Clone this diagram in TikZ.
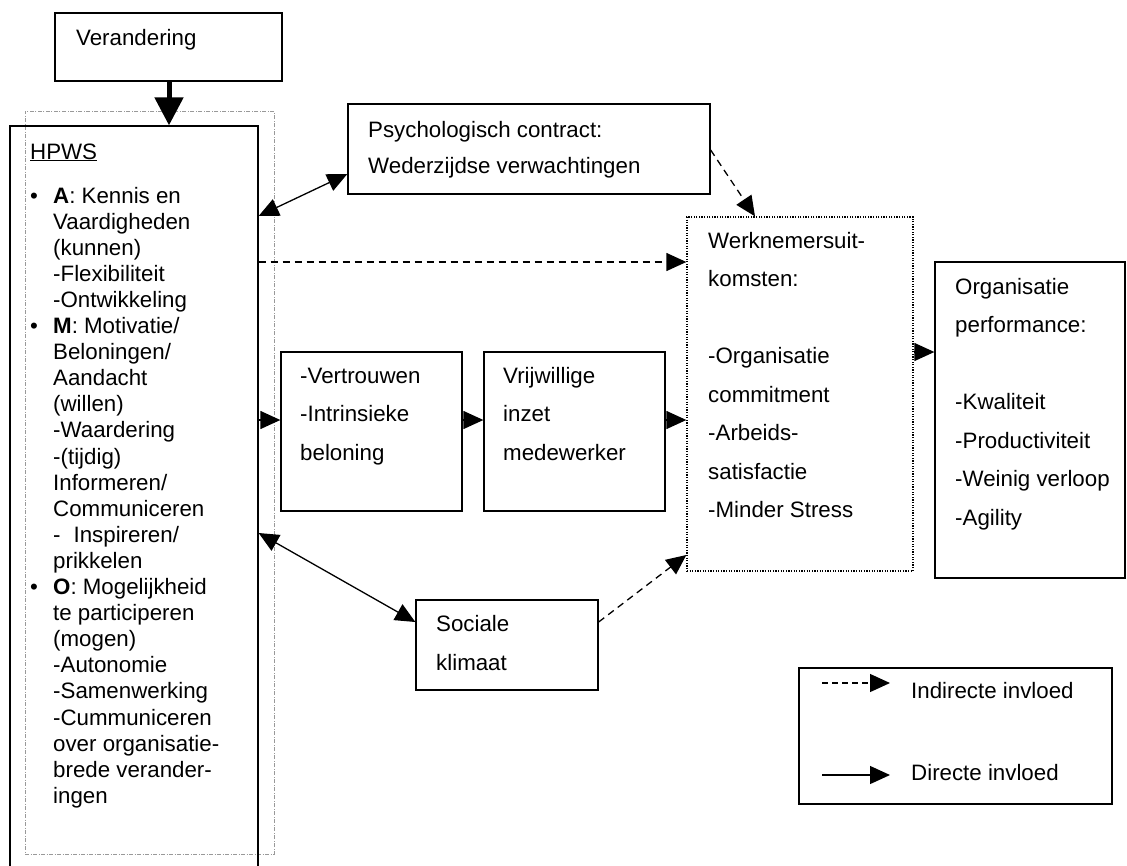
\documentclass[tikz,border=0pt]{standalone}
\usepackage{fontspec}
\setmainfont{Liberation Sans}
\usetikzlibrary{arrows.meta,calc}
\begin{document}
\begin{tikzpicture}[x=1pt,y=-1pt,
  box/.style={draw, line width=1.3pt, rectangle, inner sep=0pt},
  txt/.style={anchor=base west, inner sep=0pt, font=\fontsize{22.3}{38.5}\selectfont},
  arr/.style={line width=1.3pt, -{Triangle[length=20pt,width=18pt]}},
  darr/.style={line width=1.3pt, {Triangle[length=20pt,width=18pt]}-{Triangle[length=20pt,width=18pt]}},
  dasharr/.style={line width=1.3pt, dash pattern=on 7pt off 5pt, -{Triangle[length=20pt,width=18pt]}},
]
\useasboundingbox (0,0) rectangle (1127,865);
\clip (0,0) rectangle (1127,865);

% boxes
\node[box, minimum width=227pt, minimum height=68pt] (ver) at (168.5,47) {};
\node[draw=gray!80, line width=0.8pt, dash pattern=on 4pt off 1.5pt on 1pt off 1.5pt, rectangle, inner sep=0pt,
      minimum width=249pt, minimum height=743pt] (frame) at (149.5,482.5) {};
\node[box, minimum width=248pt, minimum height=746pt] (hpws) at (134,499) {};
\node[box, minimum width=362pt, minimum height=90pt] (psych) at (529,149) {};
\node[draw, line width=1.3pt, dash pattern=on 1.2pt off 1.4pt, rectangle, inner sep=0pt,
      minimum width=226pt, minimum height=354pt] (werk) at (800,394) {};
\node[box, minimum width=190pt, minimum height=316pt] (org) at (1030,420) {};
\node[box, minimum width=181pt, minimum height=159pt] (vert) at (371.5,431.5) {};
\node[box, minimum width=181pt, minimum height=159pt] (vrij) at (574.5,431.5) {};
\node[box, minimum width=182pt, minimum height=90pt] (soc) at (507,645) {};
\node[box, minimum width=313pt, minimum height=136pt] (leg) at (955.5,736) {};

% texts
\node[txt] (vertxt) at (76,45) {Verandering};
\node[txt] (hptitle) at (30,159) {\underline{HPWS}};
\node[txt, font=\fontsize{22.3}{26.1}\selectfont] (hplist) at (30,203) {\begin{tabular}[t]{@{}l@{}}
\makebox[23pt][l]{\textbullet}\textbf{A}: Kennis en\\
\hspace{23pt}Vaardigheden\\
\hspace{23pt}(kunnen)\\
\hspace{23pt}-Flexibiliteit\\
\hspace{23pt}-Ontwikkeling\\
\makebox[23pt][l]{\textbullet}\textbf{M}: Motivatie/\\
\hspace{23pt}Beloningen/\\
\hspace{23pt}Aandacht\\
\hspace{23pt}(willen)\\
\hspace{23pt}-Waardering\\
\hspace{23pt}-(tijdig)\\
\hspace{23pt}Informeren/\\
\hspace{23pt}Communiceren\\
\hspace{23pt}-\hspace{13pt}Inspireren/\\
\hspace{23pt}prikkelen\\
\makebox[23pt][l]{\textbullet}\textbf{O}: Mogelijkheid\\
\hspace{23pt}te participeren\\
\hspace{23pt}(mogen)\\
\hspace{23pt}-Autonomie\\
\hspace{23pt}-Samenwerking\\
\hspace{23pt}-Cummuniceren\\
\hspace{23pt}over organisatie-\\
\hspace{23pt}brede verander-\\
\hspace{23pt}ingen
\end{tabular}};
\node[txt, font=\fontsize{22.3}{36}\selectfont] (psychtxt) at (368,137) {\begin{tabular}[t]{@{}l@{}}
Psychologisch contract:\\ Wederzijdse verwachtingen\end{tabular}};
\node[txt] (werktxt) at (708,248) {\begin{tabular}[t]{@{}l@{}}
Werknemersuit-\\ komsten:\\ \mbox{}\\ -Organisatie\\ commitment\\ -Arbeids-\\ satisfactie\\ -Minder Stress\end{tabular}};
\node[txt] (orgtxt) at (955,294) {\begin{tabular}[t]{@{}l@{}}
Organisatie\\ performance:\\ \mbox{}\\ -Kwaliteit\\ -Productiviteit\\ -Weinig verloop\\ -Agility\end{tabular}};
\node[txt] (verttxt) at (300,383) {\begin{tabular}[t]{@{}l@{}}
-Vertrouwen\\ -Intrinsieke\\ beloning\end{tabular}};
\node[txt] (vrijtxt) at (503,383) {\begin{tabular}[t]{@{}l@{}}
Vrijwillige\\ inzet\\ medewerker\end{tabular}};
\node[txt, font=\fontsize{22.3}{39}\selectfont] (soctxt) at (436,631) {\begin{tabular}[t]{@{}l@{}}
Sociale\\ klimaat\end{tabular}};
\node[txt] (indtxt) at (911,698) {Indirecte invloed};
\node[txt] (dirtxt) at (911,780) {Directe invloed};

% connectors
\draw[line width=5pt, -{Triangle[length=28pt,width=28pt]}] (ver.south -| 169,0) -- (hpws.north -| 169,0);
\draw[darr] (hpws.east |- 0,216) -- (psych.west |- 0,174);
\draw[dasharr] (hpws.east |- 0,262) -- (werk.west |- 0,262);
\draw[dasharr] (psych.east |- 0,150) -- (werk.north -| 755,0);
\draw[arr] (hpws.east |- 0,420) -- (vert.west |- 0,420);
\draw[arr] (vert.east |- 0,420) -- (vrij.west |- 0,420);
\draw[arr] (vrij.east |- 0,420) -- (werk.west |- 0,420);
\draw[arr] (werk.east |- 0,352) -- (org.west |- 0,352);
\draw[darr] (hpws.east |- 0,533) -- (soc.west |- 0,622);
\draw[dasharr] (soc.east |- 0,622) -- (werk.west |- 0,555);

% legend
\coordinate (la1) at (822,683);
\coordinate (la2) at (890,683);
\coordinate (lb1) at (822,775);
\coordinate (lb2) at (890,775);
\draw[dasharr, dash pattern=on 6pt off 4pt] (la1) -- (la2);
\draw[arr] (lb1) -- (lb2);
\end{tikzpicture}
\end{document}
